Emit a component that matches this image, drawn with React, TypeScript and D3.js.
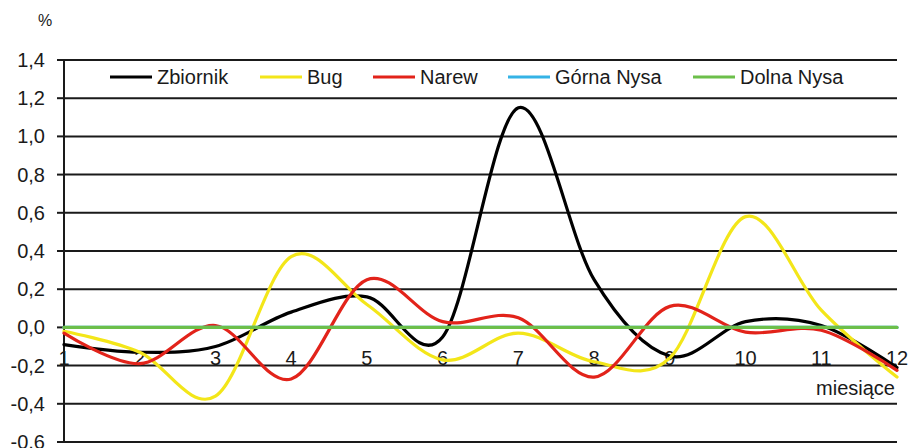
import React from "react";
import * as d3 from "d3";

const months = [1, 2, 3, 4, 5, 6, 7, 8, 9, 10, 11, 12];
const yTicks = [-0.6, -0.4, -0.2, 0, 0.2, 0.4, 0.6, 0.8, 1.0, 1.2, 1.4];
const zbiornik = [-0.09, -0.13, -0.1, 0.08, 0.16, -0.05, 1.15, 0.25, -0.15, 0.03, 0.01, -0.21];
const bug = [-0.02, -0.13, -0.36, 0.37, 0.12, -0.17, -0.03, -0.18, -0.16, 0.58, 0.09, -0.26];
const narew = [-0.03, -0.19, 0.01, -0.27, 0.25, 0.03, 0.05, -0.26, 0.11, -0.025, -0.015, -0.225];
const gornaNysa = [0, 0, 0, 0, 0, 0, 0, 0, 0, 0, 0, 0];
const dolnaNysa = [0, 0, 0, 0, 0, 0, 0, 0, 0, 0, 0, 0];
const seriesNames = ["Zbiornik", "Bug", "Narew", "Górna Nysa", "Dolna Nysa"];
const seriesColors = ["#000000", "#f3e619", "#e2231a", "#35b3e6", "#6cbf4a"];

const W = 919;
const H = 448;
const FONT = "'Liberation Sans', Arial, sans-serif";

export default function App() {
  const x = d3.scaleLinear().domain([1, 12]).range([64, 897]);
  const y = d3.scaleLinear().domain([-0.6, 1.4]).range([442, 60]);
  const allSeries = [zbiornik, bug, narew, gornaNysa, dolnaNysa];
  const line = d3
    .line<number>()
    .x((_, i) => x(months[i]))
    .y((d) => y(d))
    .curve(d3.curveCardinal.tension(0));

  const legendX = [110, 260, 373, 508, 693];
  const fmt = (v: number) => v.toFixed(1).replace(".", ",");

  return (
    <svg
      width={W}
      height={H}
      style={{ position: "absolute", left: 0, top: 0, background: "#fff" }}
      fontFamily={FONT}
    >
      <rect x={0} y={0} width={W} height={H} fill="#fff" />
      {yTicks.map((t) => (
        <g key={t}>
          <line x1={64} x2={897} y1={y(t)} y2={y(t)} stroke="#1a1a1a" strokeWidth={2} />
          <line x1={57} x2={64} y1={y(t)} y2={y(t)} stroke="#1a1a1a" strokeWidth={2} />
          <text
            x={45}
            y={y(t)}
            dy="0.35em"
            textAnchor="end"
            fontSize={20}
            fill="#1a1a1a"
          >
            {fmt(t)}
          </text>
        </g>
      ))}
      <line x1={64} x2={64} y1={y(1.4)} y2={y(-0.6)} stroke="#1a1a1a" strokeWidth={2} />
      <text x={45} y={26} textAnchor="middle" fontSize={16} fill="#1a1a1a">
        %
      </text>
      {months.map((m) => (
        <text
          key={m}
          x={x(m)}
          y={y(-0.2) - 1}
          textAnchor="middle"
          fontSize={20}
          fill="#1a1a1a"
        >
          {m}
        </text>
      ))}
      <text x={895} y={395} textAnchor="end" fontSize={20} fill="#1a1a1a">
        miesiące
      </text>
      {allSeries.map((s, i) => (
        <path
          key={seriesNames[i]}
          d={line(s) || ""}
          fill="none"
          stroke={seriesColors[i]}
          strokeWidth={3.2}
          strokeLinejoin="round"
          strokeLinecap="round"
        />
      ))}
      {seriesNames.map((n, i) => (
        <g key={n}>
          <line
            x1={legendX[i]}
            x2={legendX[i] + 42}
            y1={77}
            y2={77}
            stroke={seriesColors[i]}
            strokeWidth={3.2}
          />
          <text x={legendX[i] + 47} y={84} fontSize={20} fill="#1a1a1a">
            {n}
          </text>
        </g>
      ))}
    </svg>
  );
}
